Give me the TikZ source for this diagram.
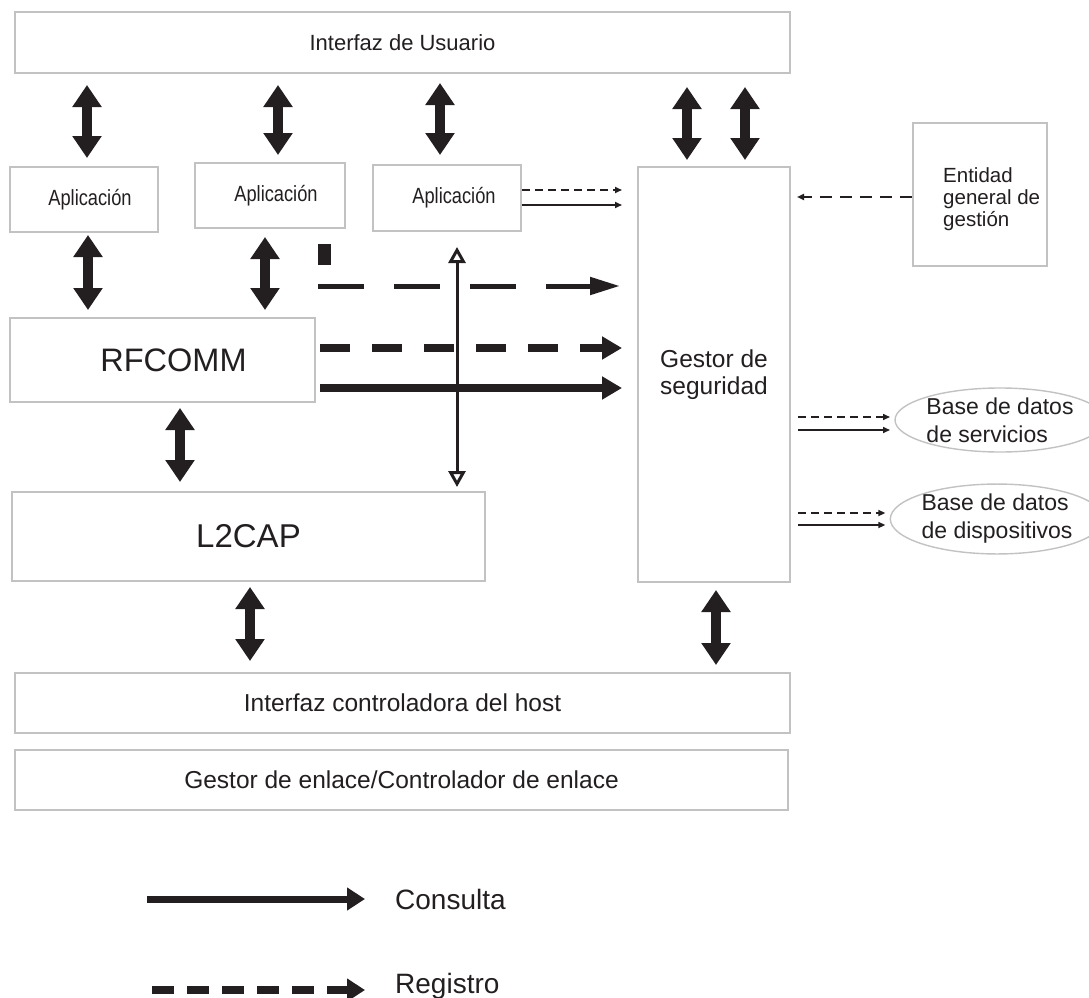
\documentclass[tikz,border=0pt]{standalone}
\usepackage{fontspec}
\setmainfont{Liberation Sans}
\newfontfamily\narrowfont[FakeStretch=0.83]{Liberation Sans}
\usetikzlibrary{arrows.meta,calc,shapes.geometric}

\definecolor{frame}{HTML}{C2C2C2}
\definecolor{ink}{HTML}{231F20}

\tikzset{
  box/.style={draw=frame, line width=1.4pt, rectangle, inner sep=0pt, outer sep=0pt,
              fill=white, text=ink, align=center},
  dbase/.style={draw=frame, line width=1.4pt, ellipse, inner sep=0pt, outer sep=0pt,
              text=ink, align=left, minimum width=210pt, minimum height=64pt,
              font=\fontsize{23}{28}\selectfont},
  apptext/.style={font=\narrowfont\fontsize{22}{26}\selectfont},
  fat/.style={ink, line width=10pt,
              {Triangle[width=28pt,length=22pt]}-{Triangle[width=28pt,length=22pt]}},
  thinarrow/.style={ink, line width=1.6pt, -{Triangle[width=6pt,length=7pt]}},
  thindash/.style={thinarrow, dash pattern=on 8pt off 5pt},
  bigtip/.style={-{Triangle[width=22pt,length=20pt]}},
  consulta/.style={ink, line width=8pt, bigtip},
  registro/.style={ink, line width=8.5pt, bigtip, dash pattern=on 30pt off 22pt},
  legtext/.style={anchor=west, inner sep=0pt, text=ink, font=\fontsize{28}{32}\selectfont},
}

\begin{document}
\begin{tikzpicture}[x=1pt, y=-1pt]
\useasboundingbox (0,0) rectangle (1089,998);

% protocol stack boxes
\node[box, minimum width=775pt, minimum height=61pt, font=\fontsize{22}{26}\selectfont]
  (ui) at (402.5,42.5) {Interfaz de Usuario};
\node[box, minimum width=148pt, minimum height=65pt, apptext] (app1) at (84,199.5) {\hspace*{12pt}Aplicación};
\node[box, minimum width=150pt, minimum height=65pt, apptext] (app2) at (270,195.5) {\hspace*{12pt}Aplicación};
\node[box, minimum width=148pt, minimum height=66pt, apptext] (app3) at (447,198) {\hspace*{14pt}Aplicación};
\node[box, minimum width=305pt, minimum height=84pt, font=\fontsize{32.5}{36}\selectfont]
  (rf) at (162.5,360) {\hspace*{22pt}RFCOMM};
\node[box, minimum width=473pt, minimum height=89pt, font=\fontsize{33}{36}\selectfont]
  (l2) at (248.5,536.5) {L2CAP};
\node[box, minimum width=152pt, minimum height=415pt, font=\fontsize{24.5}{27}\selectfont]
  (gs) at (714,374.5) {Gestor de\\seguridad};
\node[box, minimum width=134pt, minimum height=143pt] (ent) at (980,194.5) {};
\node[anchor=west, align=left, inner sep=0pt, text=ink, font=\fontsize{20.5}{22}\selectfont]
  (entlbl) at ($(ent.west)+(30,4.5)$) {Entidad\\general de\\gestión};
\node[box, minimum width=775pt, minimum height=60pt, font=\fontsize{24.5}{28}\selectfont]
  (hci) at (402.5,703) {Interfaz controladora del host};
\node[box, minimum width=773pt, minimum height=60pt, font=\fontsize{24.5}{28}\selectfont]
  (lm) at (401.5,780) {Gestor de enlace/Controlador de enlace};

% databases
\node[dbase] (db1) at (1000,420) {Base de datos\\de servicios};
\node[dbase] (db2) at (997,519) {Base de datos\\de dispositivos};

% bidirectional layer interfaces
\draw[fat, shorten <=12pt, shorten >=9pt] ($(app1.north |- ui.south)+(3,0)$) -- ($(app1.north)+(3,0)$);
\draw[fat, shorten <=12pt, shorten >=8pt] ($(app2.north |- ui.south)+(8,0)$) -- ($(app2.north)+(8,0)$);
\draw[fat, shorten <=10pt, shorten >=10pt] ($(app3.north |- ui.south)+(-7,0)$) -- ($(app3.north)+(-7,0)$);
\draw[fat, shorten <=14pt, shorten >=7pt] ($(gs.north |- ui.south)+(-27,0)$) -- ($(gs.north)+(-27,0)$);
\draw[fat, shorten <=14pt, shorten >=7pt] ($(gs.north |- ui.south)+(31,0)$) -- ($(gs.north)+(31,0)$);
\draw[fat, shorten <=3pt, shorten >=8pt] ($(app1.south)+(4,0)$) -- ($(app1.south |- rf.north)+(4,0)$);
\draw[fat, shorten <=9pt, shorten >=8pt] ($(app2.south)+(-5,0)$) -- ($(app2.south |- rf.north)+(-5,0)$);
\draw[fat, shorten <=6pt, shorten >=10pt] ($(rf.south)+(17.5,0)$) -- ($(rf.south |- l2.north)+(17.5,0)$);
\draw[fat, shorten <=6pt, shorten >=12pt] ($(l2.south)+(1.5,0)$) -- ($(l2.south |- hci.north)+(1.5,0)$);
\draw[fat, shorten <=8pt, shorten >=8pt] ($(gs.south)+(2,0)$) -- ($(gs.south |- hci.north)+(2,0)$);

% application to security manager
\draw[thindash, shorten <=1pt, shorten >=16pt] ($(app3.east)+(0,-8)$) -- ($(app3.east -| gs.west)+(0,-8)$);
\draw[thinarrow, shorten <=1pt, shorten >=16pt] ($(app3.east)+(0,7)$) -- ($(app3.east -| gs.west)+(0,7)$);

% management entity to security manager
\draw[thinarrow, line width=2.5pt, dash pattern=on 12pt off 8pt, shorten <=1pt, shorten >=7pt]
  ($(ent.west)+(0,2.5)$) -- ($(ent.west -| gs.east)+(0,2.5)$);

% security manager to databases
\draw[thindash, shorten <=8pt, shorten >=5pt] ($(db1.west -| gs.east)+(0,-3)$) -- ($(db1.west)+(0,-3)$);
\draw[thinarrow, shorten <=8pt, shorten >=5pt] ($(db1.west -| gs.east)+(0,10)$) -- ($(db1.west)+(0,10)$);
\draw[thindash, shorten <=8pt, shorten >=5pt] ($(db2.west -| gs.east)+(0,-6)$) -- ($(db2.west)+(0,-6)$);
\draw[thinarrow, shorten <=8pt, shorten >=5pt] ($(db2.west -| gs.east)+(0,6)$) -- ($(db2.west)+(0,6)$);

% registration from above RFCOMM
\fill[ink] (318,244) rectangle (331,265);
\coordinate (regstart) at (318,286);
\draw[ink, line width=5pt, dash pattern=on 46pt off 30pt,
      -{Triangle[width=17pt,length=30pt]}, shorten >=18pt]
  (regstart) -- (regstart -| gs.west);

% RFCOMM registration and query
\draw[registro, shorten >=16pt] ($(rf.east)+(5,-12)$) -- ($(rf.east -| gs.west)+(0,-12)$);
\draw[consulta, shorten >=16pt] ($(rf.east)+(5,28)$) -- ($(rf.east -| gs.west)+(0,28)$);

% application to L2CAP
\draw[ink, line width=3pt,
      {Triangle[open,width=17pt,length=16pt]}-{Triangle[open,width=17pt,length=16pt]},
      shorten <=16pt, shorten >=5pt]
  ($(app3.south)+(10,0)$) -- ($(app3.south |- l2.north)+(10,0)$);

% legend
\node[legtext] (cons) at (395,899) {Consulta};
\node[legtext] (regi) at (395,986) {Registro};
\coordinate (cstart) at (147,899);
\coordinate (rstart) at (152,990);
\draw[ink, line width=7pt, -{Triangle[width=22pt,length=18pt]}, shorten >=30pt] (cstart) -- (cons.west |- cstart);
\draw[ink, line width=8pt, dash pattern=on 22pt off 13pt, -{Triangle[width=22pt,length=18pt]}, shorten >=30pt]
  (rstart) -- (regi.west |- rstart);
\end{tikzpicture}
\end{document}
